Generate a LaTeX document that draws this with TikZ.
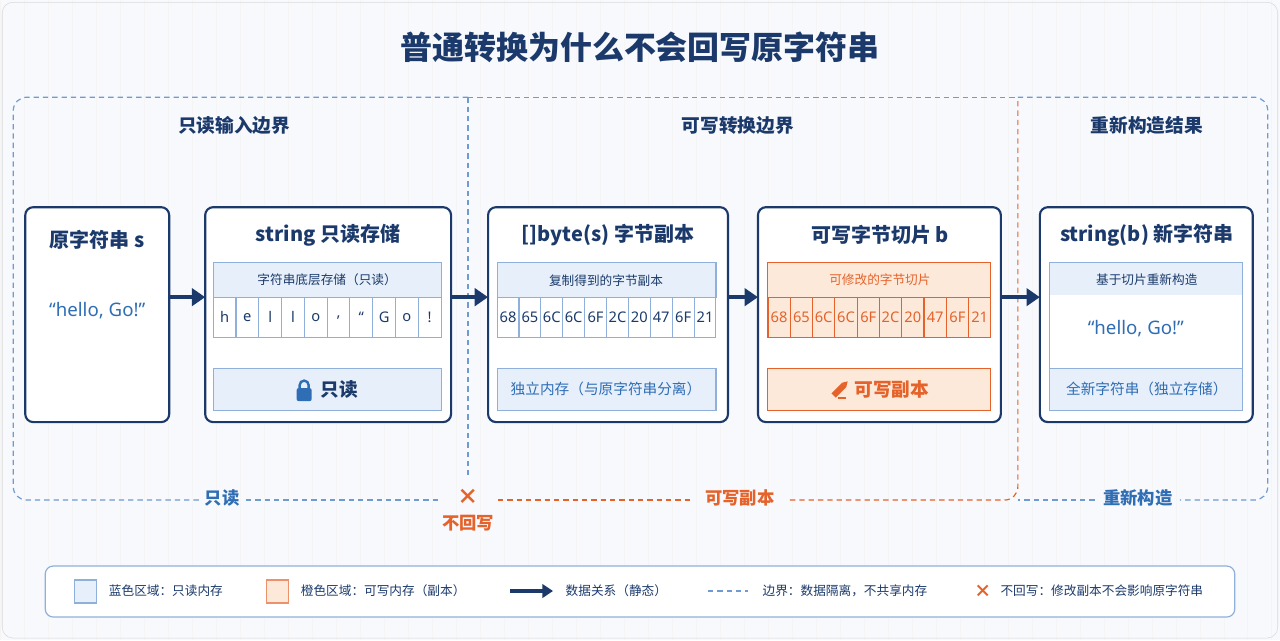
\documentclass[tikz,border=0pt]{standalone}
\usepackage{fontspec}
\setmainfont{Noto Sans CJK SC}
\newfontfamily\lat{Noto Sans}
\usetikzlibrary{positioning,arrows.meta}
\definecolor{navy}{HTML}{1B3A6B}
\definecolor{tblue}{HTML}{2F6DB5}
\definecolor{lblue}{HTML}{E6EFFA}
\definecolor{bblue}{HTML}{8FB0DA}
\definecolor{dblue}{HTML}{6F9BD0}
\definecolor{orng}{HTML}{E5622A}
\definecolor{lorng}{HTML}{FDE9DA}
\definecolor{bgcol}{HTML}{F7F9FC}
\tikzset{
  box/.style={draw=navy, line width=1.6pt, rounded corners=6pt, fill=white},
  band/.style={draw=bblue, line width=0.8pt, fill=lblue},
  oband/.style={draw=orng, line width=0.8pt, fill=lorng},
  cell/.style={draw=bblue, line width=0.8pt, fill=white, minimum width=17.1pt, minimum height=30pt, inner sep=0pt, font=\fontsize{11}{11}\selectfont\lat, text=navy},
  ocell/.style={cell, draw=orng, fill=lorng, text=orng},
  btitle/.style={font=\fontsize{15}{15}\selectfont\bfseries, text=navy},
  rtitle/.style={font=\fontsize{14}{14}\selectfont\bfseries, text=navy},
  small/.style={font=\fontsize{9.5}{9.5}\selectfont},
  quote/.style={font=\fontsize{14}{14}\selectfont\lat, text=tblue},
  flow/.style={navy, line width=3pt, -{Triangle[length=10pt,width=13pt]}},
  bdash/.style={dblue, line width=0.9pt, dash pattern=on 4pt off 3pt},
  odash/.style={orng, line width=0.9pt, dash pattern=on 4pt off 3pt},
}
\begin{document}
\begin{tikzpicture}[x=0.75pt, y=-0.75pt]
% background
\fill[bgcol] (0,0) rectangle (1280,640);
\draw[black!4] (0,0) grid[step=24] (1280,640);
\draw[black!15, rounded corners=8pt] (2,2) rectangle (1278,638);
\node[font=\fontsize{24}{24}\selectfont\bfseries, text=navy] (title) at (640,47) {普通转换为什么不会回写原字符串};

% region boundaries
\draw[bdash, rounded corners=10pt] (468,97) -- (13,97) -- (13,500) -- (200,500);
\draw[bdash] (246,500) -- (440,500);
\draw[bdash] (468,97) -- (468,475);
\draw[bdash] (468,97) -- (1018,97);
\draw[odash] (498,500) -- (690,500);
\draw[odash, rounded corners=10pt] (790,500) -- (1018,500) -- (1018,97);
\draw[bdash, rounded corners=10pt] (1018,97) -- (1268,97) -- (1268,500) -- (1180,500);
\draw[bdash, rounded corners=10pt] (1095,500) -- (1018,500);
\node[rtitle] (r1) at (234,125) {只读输入边界};
\node[rtitle] (r2) at (738,125) {可写转换边界};
\node[rtitle] (r3) at (1147,125) {重新构造结果};
\node[font=\fontsize{13}{13}\selectfont\bfseries, text=tblue] (l1) at (222,498) {只读};
\node[font=\fontsize{13}{13}\selectfont\bfseries, text=orng] (l2) at (740,498) {可写副本};
\node[font=\fontsize{13}{13}\selectfont\bfseries, text=tblue] (l3) at (1138,498) {重新构造};
\node[font=\fontsize{16}{16}\selectfont\bfseries, text=orng] (x1) at (468,497) {×};
\node[font=\fontsize{13}{13}\selectfont\bfseries, text=orng] (nw) at (468,523) {不回写};

% box A
\draw[box] (25,207) rectangle (169,422);
\node[btitle] (ta) at (97,240) {原字符串 s};
\node[quote] (sa) at (97,310) {“hello, Go!”};
\coordinate (ao) at (169,297);

% box B
\draw[box] (205,207) rectangle (451,422);
\node[btitle] (tb) at (328,235) {string 只读存储};
\draw[band] (213,262) rectangle (441,297);
\node[small, text=navy] at (327,280) {字符串底层存储（只读）};
\foreach \c [count=\i] in {h,e,l,l,o,{,},“,G,o,!}
  \node[cell] (b\i) at (213+22.8*\i-11.4,317) {\c};
\draw[band] (213,368) rectangle (441,410);
\begin{scope}[shift={(304,391)}]
  \draw[tblue, line width=1.8pt] (-4.5,-3) -- (-4.5,-6) arc[start angle=180, end angle=360, radius=4.5] -- (4.5,-3);
  \fill[tblue, rounded corners=1.5pt] (-7.5,-3) rectangle (7.5,10);
\end{scope}
\node[font=\fontsize{14}{14}\selectfont\bfseries, text=navy] (rb) at (339,389) {只读};
\coordinate (bi) at (205,297);
\coordinate (bo) at (451,297);

% box C
\draw[box] (488,207) rectangle (728,422);
\node[btitle] (tc) at (608,235) {[]byte(s) 字节副本};
\draw[band] (497,262) rectangle (716,297);
\node[small, text=navy] at (606,280) {复制得到的字节副本};
\foreach \c [count=\i] in {68,65,6C,6C,6F,2C,20,47,6F,21}
  \node[cell, minimum width=16.4pt] (c\i) at (497+21.9*\i-10.95,317) {\c};
\draw[band] (497,368) rectangle (716,410);
\node[font=\fontsize{11}{11}\selectfont, text=tblue] at (606,389) {独立内存（与原字符串分离）};
\coordinate (ci) at (488,297);
\coordinate (co) at (728,297);

% box D
\draw[box] (758,207) rectangle (1001,422);
\node[btitle] (td) at (880,235) {可写字节切片 b};
\draw[oband] (768,262) rectangle (991,297);
\node[small, text=orng] at (880,280) {可修改的字节切片};
\foreach \c [count=\i] in {68,65,6C,6C,6F,2C,20,47,6F,21}
  \node[ocell, minimum width=16.7pt] (d\i) at (768+22.3*\i-11.15,317) {\c};
\draw[oband] (768,368) rectangle (991,410);
\begin{scope}[shift={(840,389)}, rotate=45]
  \fill[orng] (-9,-3) rectangle (6,3);
  \fill[orng] (6,-3) -- (11,0) -- (6,3) -- cycle;
\end{scope}
\draw[orng, line width=1.2pt] (838,398) -- (846,398);
\node[font=\fontsize{14}{14}\selectfont\bfseries, text=orng] (rd) at (892,389) {可写副本};
\coordinate (di) at (758,297);
\coordinate (do) at (1001,297);

% box E
\draw[box] (1040,207) rectangle (1253,422);
\node[btitle] (te) at (1147,235) {string(b) 新字符串};
\draw[band] (1050,262) rectangle (1243,295);
\fill[white] (1050,295) rectangle (1243,368);
\draw[band] (1050,368) rectangle (1243,410);
\draw[bblue, line width=0.8pt] (1050,262) rectangle (1243,410);
\node[small, text=navy] at (1147,280) {基于切片重新构造};
\node[quote] (se) at (1136,328) {“hello, Go!”};
\node[font=\fontsize{11}{11}\selectfont, text=tblue] at (1147,389) {全新字符串（独立存储）};
\coordinate (ei) at (1040,297);

% flows
\draw[flow] (ao) -- (bi);
\draw[flow] (bo) -- (ci);
\draw[flow] (co) -- (di);
\draw[flow] (do) -- (ei);

% legend
\draw[bblue, fill=white, rounded corners=6pt, line width=0.9pt] (45,566) rectangle (1235,617);
\draw[bblue, fill=lblue, line width=0.9pt] (74,580) rectangle (96,603);
\node[small, text=navy, anchor=west] (k1) at (104,591) {蓝色区域：只读内存};
\draw[orng!70, fill=lorng, line width=0.9pt] (266,580) rectangle (288,603);
\node[small, text=navy, anchor=west] (k2) at (296,591) {橙色区域：可写内存（副本）};
\coordinate (ka) at (510,591);
\coordinate (kb) at (553,591);
\draw[navy, line width=2.5pt, -{Triangle[length=8pt,width=10pt]}] (ka) -- (kb);
\node[small, text=navy, anchor=west] (k3) at (561,591) {数据关系（静态）};
\draw[bdash] (708,591) -- (748,591);
\node[small, text=navy, anchor=west] (k4) at (758,591) {边界：数据隔离，不共享内存};
\node[font=\fontsize{13}{13}\selectfont\bfseries, text=orng] (kx) at (983,591) {×};
\node[small, text=navy, anchor=west] (k5) at (996,591) {不回写：修改副本不会影响原字符串};
\end{tikzpicture}
\end{document}
